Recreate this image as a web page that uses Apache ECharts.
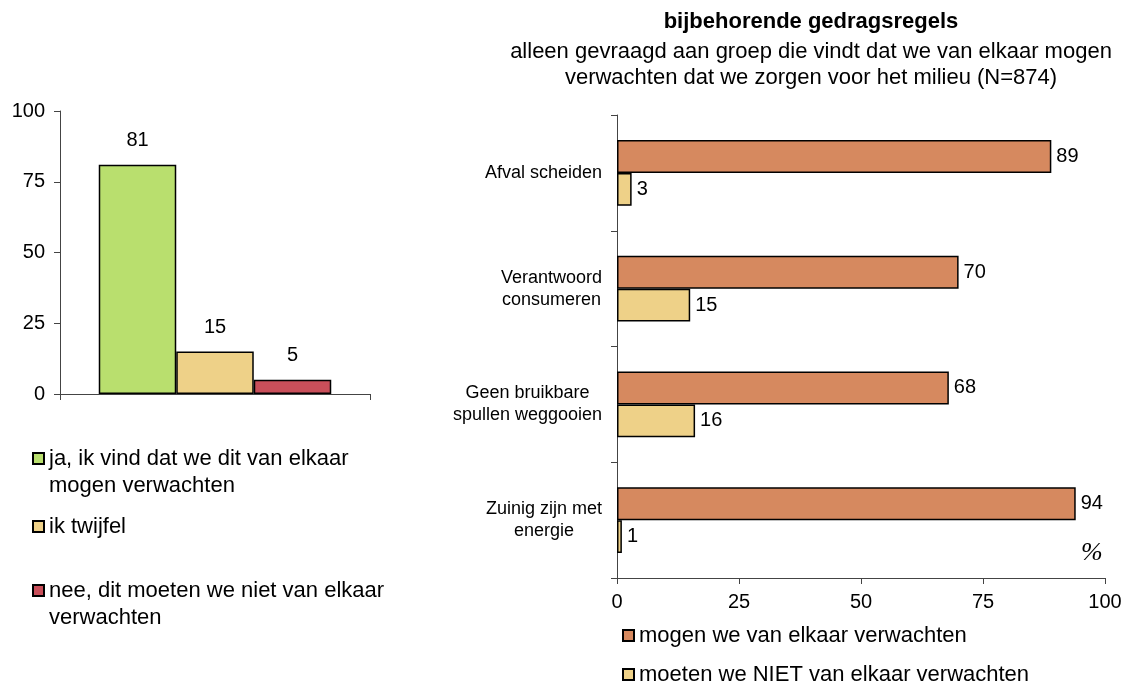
<!DOCTYPE html>
<html>
<head>
<meta charset="utf-8">
<script src="https://cdn.jsdelivr.net/npm/echarts@6/dist/echarts.min.js"></script>
<style>
  html, body { margin: 0; padding: 0; background: #fff; }
  #chart { width: 1129px; height: 682px; }
</style>
</head>
<body>
<div id="chart"></div>
<script>
// linker grafiek: verwachting milieu
const leftNames = [
  "ja, ik vind dat we dit van elkaar\nmogen verwachten",
  "ik twijfel",
  "nee, dit moeten we niet van elkaar\nverwachten",
];
const leftValues = [81, 15, 5];
const leftColors = ["#b9df6e", "#eed188", "#c94f5a"];
const leftTicks = [0, 25, 50, 75, 100];

// rechter grafiek: gedragsregels
const rightCategories = [
  "Afval scheiden",
  "Verantwoord\nconsumeren",
  "Geen bruikbare\nspullen weggooien",
  "Zuinig zijn met\nenergie",
];
const rightNames = ["mogen we van elkaar verwachten", "moeten we NIET van elkaar verwachten"];
const mogenValues = [89, 70, 68, 94];
const nietValues = [3, 15, 16, 1];
const rightColors = ["#d6895f", "#eed188"];
const rightTicks = [0, 25, 50, 75, 100];

const FONT = "Liberation Sans, Arial, sans-serif";
const axisColor = "#444";

const chart = echarts.init(document.getElementById("chart"));

const leftSeries = leftNames.map((name, i) => ({
  name,
  type: "bar",
  xAxisIndex: 0,
  yAxisIndex: 0,
  barGap: "0%",
  barCategoryGap: "25%",
  data: [leftValues[i]],
  itemStyle: { color: leftColors[i], borderColor: "#000", borderWidth: 1.5 },
  label: {
    show: true,
    position: "top",
    distance: 14,
    color: "#000",
    fontSize: 20,
    fontFamily: FONT,
  },
}));

const rightData = [mogenValues, nietValues];
const rightSeries = rightNames.map((name, i) => ({
  name,
  type: "bar",
  xAxisIndex: 1,
  yAxisIndex: 1,
  barGap: "0%",
  barCategoryGap: "43%",
  data: rightData[i],
  itemStyle: { color: rightColors[i], borderColor: "#000", borderWidth: 1.5 },
  label: {
    show: true,
    position: "right",
    distance: 5,
    color: "#000",
    fontSize: 20,
    fontFamily: FONT,
  },
}));

const legendText = { color: "#000", fontSize: 22, fontFamily: FONT, lineHeight: 27 };
// lege eerste regel zodat het vakje bij de eerste tekstregel staat
const firstLineFormatter = (name) => (name.indexOf("\n") >= 0 ? " \n" + name : name);

function oneLegend(name, left, top) {
  return {
    data: [name],
    left, top, padding: 0,
    icon: "rect",
    itemWidth: 11, itemHeight: 11, itemGap: 9,
    formatter: firstLineFormatter,
    textStyle: legendText,
  };
}

const option = {
  animation: false,
  backgroundColor: "#fff",
  textStyle: { fontFamily: FONT },
  title: {
    text: "bijbehorende gedragsregels",
    subtext: "alleen gevraagd aan groep die vindt dat we van elkaar mogen\nverwachten dat we zorgen voor het milieu (N=874)",
    left: 806,
    top: 5,
    textAlign: "center",
    itemGap: 5,
    textStyle: { color: "#000", fontSize: 22, fontWeight: "bold", fontFamily: FONT, lineHeight: 24 },
    subtextStyle: { color: "#000", fontSize: 22, fontFamily: FONT, lineHeight: 26, align: "center" },
  },
  legend: [
    oneLegend(leftNames[0], 32, 418),
    oneLegend(leftNames[1], 32, 513),
    oneLegend(leftNames[2], 32, 550),
    oneLegend(rightNames[0], 622, 622),
    oneLegend(rightNames[1], 622, 661),
  ],
  grid: [
    { left: 60, right: 759, top: 111, bottom: 288, containLabel: false },
    { left: 617, right: 24, top: 115, bottom: 104, containLabel: false },
  ],
  xAxis: [
    {
      type: "category",
      gridIndex: 0,
      data: [""],
      axisLine: { lineStyle: { color: axisColor, width: 1 } },
      axisTick: { show: true, length: 6, lineStyle: { color: axisColor } },
      axisLabel: { show: false },
    },
    {
      type: "value",
      gridIndex: 1,
      min: rightTicks[0],
      max: rightTicks[rightTicks.length - 1],
      interval: 25,
      axisLine: { show: true, lineStyle: { color: axisColor } },
      axisTick: { show: true, length: 6, lineStyle: { color: axisColor } },
      splitLine: { show: false },
      axisLabel: { color: "#000", fontSize: 20, fontFamily: FONT, margin: 14 },
    },
  ],
  yAxis: [
    {
      type: "value",
      gridIndex: 0,
      min: leftTicks[0],
      max: leftTicks[leftTicks.length - 1],
      interval: 25,
      axisLine: { show: true, lineStyle: { color: axisColor } },
      axisTick: { show: true, length: 6, lineStyle: { color: axisColor } },
      splitLine: { show: false },
      axisLabel: { color: "#000", fontSize: 20, fontFamily: FONT, margin: 15 },
    },
    {
      type: "category",
      gridIndex: 1,
      inverse: true,
      data: rightCategories,
      axisLine: { show: true, lineStyle: { color: axisColor } },
      axisTick: { show: true, length: 6, lineStyle: { color: axisColor } },
      axisLabel: {
        color: "#000",
        fontSize: 18,
        fontFamily: FONT,
        margin: 15,
        align: "right",
        formatter: (v) => v.split("\n").map((l) => "{c|" + l + "}").join("\n"),
        rich: { c: { align: "center", fontSize: 18, lineHeight: 22, color: "#000", fontFamily: FONT } },
      },
    },
  ],
  graphic: [
    {
      type: "text",
      left: 1081,
      top: 540,
      style: { text: "%", fill: "#000", font: "italic 26px 'Liberation Serif', serif" },
    },
  ],
  series: leftSeries.concat(rightSeries),
};

chart.setOption(option);
</script>
</body>
</html>
